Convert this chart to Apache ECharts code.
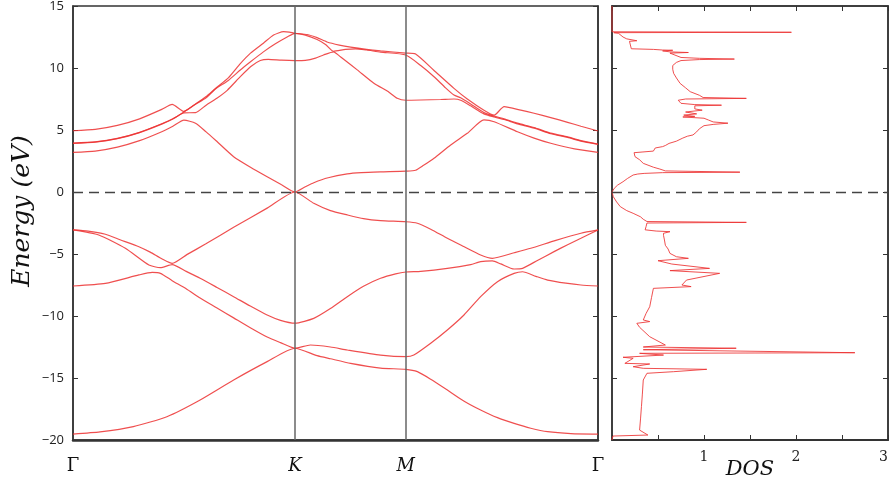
<!DOCTYPE html>
<html><head><meta charset="utf-8">
<script src="https://cdn.jsdelivr.net/npm/echarts@6/dist/echarts.min.js"></script>
<style>html,body{margin:0;padding:0;background:#fff}#c{width:890px;height:483px}</style>
</head><body><div id="c"></div>
<script>
// high-symmetry path (Γ-K-M-Γ), k in units of |ΓK|
const kPoints = [0, 1, 1.5, 2.366];
const kLabels = ['Γ', 'K', 'M', 'Γ'];
const dosTickValues = [1, 2, 3];
const dosTickLabels = ['1', '2', '3'];

// conduction bands [k, E]
const bandC1 = [[0,3.2],[0.1,3.3],[0.2,3.62],[0.3,4.14],[0.4,4.86],[0.45,5.3],[0.5,5.8],[0.552,5.55],[0.6,4.85],[0.65,4.05],[0.724,2.85],[0.8,2.0],[0.875,1.23],[0.94,0.58],[1,0],[1.047,0.42],[1.085,0.75],[1.15,1.15],[1.236,1.46],[1.3,1.56],[1.386,1.62],[1.5,1.68],[1.544,1.75],[1.58,2.15],[1.627,2.72],[1.702,3.79],[1.777,4.73],[1.852,5.81],[1.898,5.67],[2.003,4.86],[2.078,4.35],[2.153,3.93],[2.26,3.48],[2.366,3.2]];
const bandC2 = [[0,3.92],[0.1,4.02],[0.2,4.3],[0.3,4.79],[0.4,5.47],[0.45,5.88],[0.5,6.38],[0.552,6.4],[0.6,7.0],[0.65,7.58],[0.695,8.2],[0.754,9.3],[0.8,10.1],[0.844,10.6],[0.88,10.7],[0.94,10.63],[1,10.6],[1.047,10.62],[1.093,10.8],[1.129,11.05],[1.174,11.3],[1.205,10.91],[1.281,9.85],[1.356,8.77],[1.42,8.1],[1.461,7.56],[1.5,7.4],[1.567,7.42],[1.657,7.46],[1.717,7.5],[1.747,7.4],[1.792,6.95],[1.852,6.3],[1.898,6.05],[1.943,5.85],[2.003,5.5],[2.078,5.15],[2.153,4.7],[2.229,4.4],[2.289,4.1],[2.366,3.84]];
const bandC3 = [[0,3.94],[0.1,4.04],[0.2,4.32],[0.3,4.81],[0.4,5.5],[0.45,5.9],[0.5,6.45],[0.552,7.07],[0.6,7.6],[0.642,8.3],[0.7,9.0],[0.754,9.84],[0.8,10.5],[0.858,11.3],[0.912,11.95],[0.965,12.5],[1,12.8],[1.047,12.65],[1.1,12.3],[1.138,11.9],[1.174,11.35],[1.228,11.5],[1.273,11.55],[1.323,11.45],[1.386,11.28],[1.5,11.05],[1.567,10.2],[1.627,9.3],[1.679,8.4],[1.717,7.82],[1.747,7.6],[1.792,7.1],[1.852,6.4],[1.898,6.12],[1.943,5.9],[2.003,5.55],[2.078,5.2],[2.153,4.75],[2.229,4.44],[2.289,4.14],[2.366,3.86]];
const bandC4 = [[0,4.94],[0.1,5.05],[0.2,5.37],[0.3,5.9],[0.4,6.66],[0.447,7.07],[0.5,6.5],[0.552,7.1],[0.6,7.7],[0.642,8.35],[0.7,9.2],[0.754,10.35],[0.8,11.2],[0.858,12.0],[0.904,12.66],[0.949,12.93],[0.975,12.9],[1,12.8],[1.055,12.7],[1.1,12.45],[1.145,12.1],[1.2,11.85],[1.251,11.68],[1.323,11.5],[1.386,11.38],[1.5,11.2],[1.544,11.12],[1.627,9.8],[1.717,8.36],[1.777,7.5],[1.852,6.6],[1.898,6.2],[1.943,6.88],[2.018,6.6],[2.078,6.35],[2.153,6.0],[2.229,5.62],[2.289,5.3],[2.366,4.92]];
// valence bands [k, E]
const bandV1 = [[0,-3.06],[0.068,-3.15],[0.146,-3.41],[0.212,-3.85],[0.297,-4.41],[0.348,-4.85],[0.402,-5.4],[0.447,-5.75],[0.513,-5.05],[0.597,-4.2],[0.724,-2.85],[0.875,-1.3],[1,0],[1.085,-0.91],[1.16,-1.5],[1.236,-1.85],[1.309,-2.15],[1.386,-2.31],[1.5,-2.4],[1.552,-2.52],[1.612,-3.0],[1.687,-3.73],[1.761,-4.4],[1.837,-5.08],[1.89,-5.35],[1.988,-4.9],[2.063,-4.54],[2.176,-3.9],[2.289,-3.33],[2.366,-3.06]];
const bandV2 = [[0,-3.06],[0.116,-3.47],[0.236,-4.54],[0.342,-5.89],[0.394,-6.1],[0.447,-5.85],[0.51,-6.4],[0.573,-6.96],[0.649,-7.7],[0.724,-8.44],[0.799,-9.2],[0.875,-9.92],[0.935,-10.35],[1,-10.58],[1.085,-10.19],[1.16,-9.4],[1.236,-8.44],[1.309,-7.6],[1.386,-6.96],[1.454,-6.6],[1.5,-6.45],[1.567,-6.4],[1.687,-6.16],[1.792,-5.85],[1.837,-5.62],[1.89,-5.56],[1.928,-5.8],[1.988,-6.21],[2.026,-6.16],[2.095,-5.5],[2.168,-4.81],[2.229,-4.25],[2.289,-3.73],[2.366,-3.06]];
const bandV3 = [[0,-7.58],[0.146,-7.37],[0.297,-6.69],[0.357,-6.48],[0.394,-6.56],[0.447,-7.15],[0.51,-7.8],[0.573,-8.55],[0.649,-9.35],[0.724,-10.15],[0.799,-10.95],[0.875,-11.7],[0.935,-12.15],[1,-12.6],[1.07,-12.34],[1.16,-12.5],[1.236,-12.74],[1.386,-13.15],[1.5,-13.28],[1.536,-13.15],[1.612,-12.2],[1.687,-11.13],[1.762,-9.92],[1.837,-8.44],[1.913,-7.23],[1.988,-6.56],[2.026,-6.43],[2.086,-6.8],[2.139,-7.1],[2.221,-7.35],[2.289,-7.5],[2.366,-7.58]];
const bandV4 = [[0,-19.52],[0.122,-19.35],[0.272,-18.92],[0.423,-18.12],[0.573,-16.77],[0.724,-15.16],[0.875,-13.68],[1,-12.6],[1.1,-13.2],[1.16,-13.45],[1.251,-13.82],[1.386,-14.2],[1.5,-14.3],[1.552,-14.49],[1.612,-15.1],[1.687,-15.97],[1.761,-16.85],[1.837,-17.58],[1.913,-18.2],[1.988,-18.66],[2.063,-19.05],[2.139,-19.33],[2.244,-19.48],[2.366,-19.52]];

// density of states [DOS, E]
const dosCurve = [[0,15],[0,12.92],[1.95,12.88],[0.02,12.85],[0.07,12.8],[0.12,12.5],[0.16,12.35],[0.18,12.22],[0.27,12.2],[0.19,12.15],[0.2,12.0],[0.21,11.55],[0.45,11.5],[0.55,11.45],[0.66,11.43],[0.55,11.38],[0.63,11.3],[0.83,11.25],[0.63,11.2],[0.65,11.1],[0.64,11.05],[0.75,10.85],[0.95,10.78],[1.33,10.72],[0.95,10.68],[0.75,10.6],[0.7,10.45],[0.66,10.2],[0.66,9.9],[0.67,9.57],[0.7,9.2],[0.74,8.76],[0.8,8.4],[0.85,8.09],[0.95,7.8],[0.99,7.62],[1.46,7.55],[0.8,7.5],[0.72,7.4],[0.71,7.3],[0.75,7.15],[0.9,7.05],[1.19,7.0],[0.9,6.95],[0.88,6.85],[0.9,6.7],[0.98,6.6],[0.8,6.45],[0.92,6.3],[0.78,6.2],[0.9,6.1],[0.77,6.05],[1.0,5.95],[1.05,5.8],[1.1,5.65],[1.26,5.55],[1.1,5.45],[1.0,5.35],[0.95,5.1],[0.92,4.85],[0.88,4.6],[0.82,4.5],[0.77,4.35],[0.7,4.1],[0.62,3.92],[0.58,3.75],[0.55,3.66],[0.47,3.55],[0.45,3.3],[0.46,3.2],[0.24,3.17],[0.23,3.05],[0.25,2.85],[0.3,2.6],[0.34,2.31],[0.45,2.0],[0.52,1.85],[0.58,1.7],[0.6,1.63],[1.39,1.6],[0.55,1.56],[0.35,1.5],[0.28,1.45],[0.23,1.37],[0.17,1.1],[0.12,0.83],[0.06,0.55],[0.025,0.3],[0,0],[0.014,-0.38],[0.05,-0.8],[0.09,-1.18],[0.16,-1.5],[0.23,-1.72],[0.31,-2.0],[0.34,-2.2],[0.38,-2.38],[1.46,-2.45],[0.38,-2.5],[0.37,-2.8],[0.36,-3.05],[0.48,-3.15],[0.63,-3.2],[0.56,-3.33],[0.56,-3.5],[0.57,-3.87],[0.58,-4.3],[0.61,-4.6],[0.63,-4.95],[0.7,-5.22],[0.83,-5.35],[0.5,-5.54],[0.65,-5.81],[1.06,-6.16],[0.63,-6.34],[1.17,-6.56],[0.81,-7.1],[0.76,-7.5],[0.86,-7.63],[0.45,-7.77],[0.43,-8.5],[0.41,-9.25],[0.37,-9.8],[0.34,-10.32],[0.41,-10.45],[0.27,-10.59],[0.3,-10.91],[0.41,-11.67],[0.58,-12.34],[0.34,-12.5],[1.35,-12.6],[0.34,-12.72],[2.64,-12.96],[0.3,-13.01],[0.56,-13.15],[0.12,-13.33],[0.23,-13.41],[0.14,-13.82],[0.41,-13.87],[0.23,-14.09],[0.34,-14.22],[1.03,-14.3],[0.67,-14.49],[0.38,-14.62],[0.34,-15.16],[0.33,-16.3],[0.32,-17.31],[0.31,-18.3],[0.3,-19.2],[0.39,-19.6],[0.01,-19.68],[0,-20]];

const bands = [bandC1, bandC2, bandC3, bandC4, bandV1, bandV2, bandV3, bandV4];
const red = 'rgba(236,48,48,0.85)';
const frame = '#333';
const fmtE = v => v < 0 ? '\u2212' + Math.abs(v) : String(v);

const chart = echarts.init(document.getElementById('c'), null, {renderer: 'canvas'});
const yBase = {type: 'value', min: -20, max: 15, interval: 5, splitLine: {show: false},
  axisLine: {show: true, onZero: false, lineStyle: {color: frame, width: 1.5}},
  axisTick: {show: true, inside: true, length: 5, lineStyle: {color: frame}}};

const series = bands.map(b => ({type: 'line', xAxisIndex: 0, yAxisIndex: 0, data: b, showSymbol: false,
  smooth: 0.2, silent: true, lineStyle: {color: red, width: 1.2}}));
series[0].markLine = {silent: true, symbol: 'none', label: {show: false},
  data: [
    {xAxis: kPoints[1], lineStyle: {color: '#666', width: 1.5, type: 'solid'}},
    {xAxis: kPoints[2], lineStyle: {color: '#666', width: 1.5, type: 'solid'}},
    {yAxis: 0, lineStyle: {color: '#444', width: 1.3, type: [10, 6]}}
  ]};
series.push({type: 'line', xAxisIndex: 1, yAxisIndex: 2, data: dosCurve, showSymbol: false, silent: true,
  lineStyle: {color: red, width: 1},
  markLine: {silent: true, symbol: 'none', label: {show: false},
    data: [{yAxis: 0, lineStyle: {color: '#444', width: 1.3, type: [10, 6]}}]}});

chart.setOption({
  animation: false,
  backgroundColor: '#fff',
  grid: [
    {left: 73, right: 292, top: 6, bottom: 43, show: true, borderColor: frame, borderWidth: 1.5,
      outerBoundsMode: 'none', containLabel: false},
    {left: 612, right: 2, top: 6, bottom: 43, show: true, borderColor: frame, borderWidth: 1.5,
      outerBoundsMode: 'none', containLabel: false}
  ],
  xAxis: [
    {gridIndex: 0, type: 'value', min: 0, max: kPoints[3], position: 'bottom', splitLine: {show: false},
      axisLine: {show: true, onZero: false, lineStyle: {color: frame, width: 2.5}}, axisTick: {show: false},
      axisLabel: {customValues: kPoints, margin: 17, showMinLabel: true, showMaxLabel: true,
        formatter: v => { const i = kPoints.findIndex(p => Math.abs(p - v) < 1e-6); const t = kLabels[i];
          return (i === 1 || i === 2) ? '{it|' + t + '}' : '{up|' + t + '}'; },
        rich: {it: {fontFamily: 'DejaVu Serif', fontStyle: 'italic', fontSize: 18, color: '#111'},
               up: {fontFamily: 'DejaVu Serif', fontSize: 18, color: '#111'}}}},
    {gridIndex: 1, type: 'value', min: 0, max: 3, interval: 0.5, position: 'bottom', splitLine: {show: false},
      axisLine: {show: true, onZero: false, lineStyle: {color: frame, width: 2}},
      axisTick: {show: true, inside: true, length: 5, lineStyle: {color: frame}},
      axisLabel: {customValues: dosTickValues, margin: 10, alignMaxLabel: 'right',
        formatter: v => dosTickLabels[dosTickValues.indexOf(v)] || '',
        fontFamily: 'DejaVu Serif', fontSize: 14, color: '#222'},
      name: 'DOS', nameLocation: 'middle', nameGap: 19, nameMoveOverlap: false,
      nameTextStyle: {fontFamily: 'DejaVu Serif', fontStyle: 'italic', fontSize: 21, color: '#111'}},
    {gridIndex: 1, type: 'value', min: 0, max: 3, interval: 0.5, position: 'top', splitLine: {show: false},
      axisLine: {show: true, onZero: false, lineStyle: {color: frame, width: 1.5}},
      axisTick: {show: true, inside: true, length: 5, lineStyle: {color: frame}}, axisLabel: {show: false}}
  ],
  yAxis: [
    Object.assign({}, yBase, {gridIndex: 0, position: 'left',
      axisLabel: {formatter: fmtE, margin: 9, fontFamily: 'Open Sans', fontSize: 13, color: '#222'},
      name: 'Energy (eV)', nameLocation: 'middle', nameGap: 38, nameRotate: 90, nameMoveOverlap: false,
      nameTextStyle: {fontFamily: 'DejaVu Serif', fontStyle: 'italic', fontSize: 25, color: '#111',
        padding: [0, 0, 0, 24]}}),
    Object.assign({}, yBase, {gridIndex: 0, position: 'right', axisLabel: {show: false}}),
    Object.assign({}, yBase, {gridIndex: 1, position: 'left', axisLabel: {show: false}}),
    Object.assign({}, yBase, {gridIndex: 1, position: 'right', axisLabel: {show: false}})
  ],
  series: series
});
</script></body></html>
